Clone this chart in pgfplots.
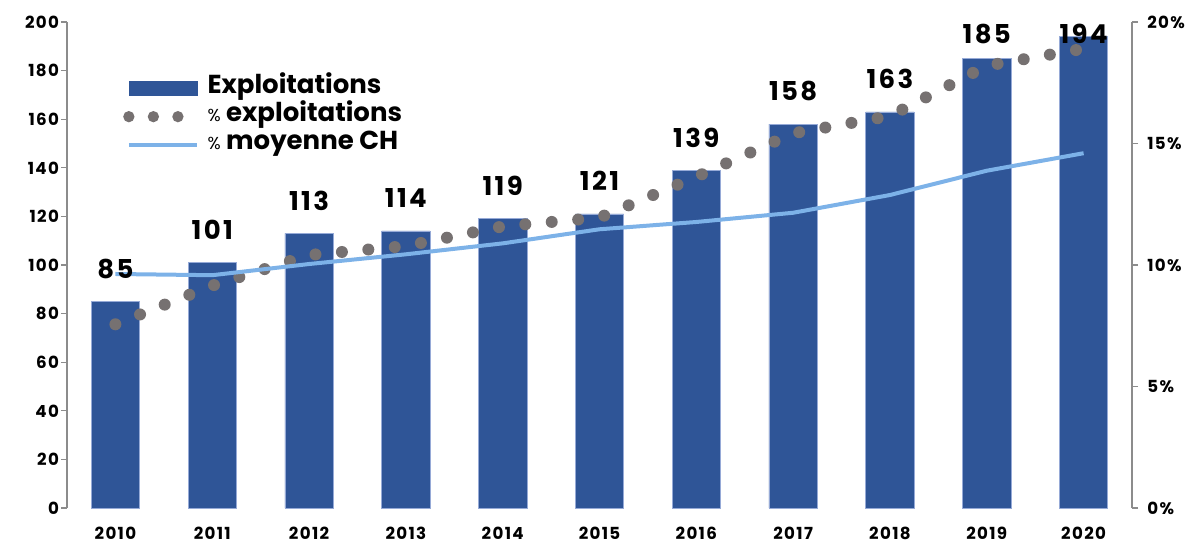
\documentclass[border=0pt]{standalone}
\usepackage{pgfplots}
\pgfplotsset{compat=1.18}
\usepackage{fontspec}
\setmainfont{Poppins}
\definecolor{barblue}{RGB}{47,85,151}
\definecolor{baredge}{RGB}{150,170,215}
\definecolor{dotgray}{RGB}{118,113,113}
\definecolor{lineblue}{RGB}{125,178,232}
\definecolor{axisgray}{RGB}{140,140,140}
\begin{document}
\begin{tikzpicture}
\pgfplotsset{
  base/.style={scale only axis, width=798.75pt, height=364.5pt,
    xmin=-0.5, xmax=10.5,
    /pgf/number format/assume math mode=true,
    tick align=outside, major tick length=4.5pt,
    every tick/.style={axisgray, line width=0.8pt},
    axis line style={axisgray, line width=0.8pt},
    tick label style={font=\bfseries\fontsize{12.5}{14}\selectfont\addfontfeatures{LetterSpace=8}, text=black},
  }
}
\begin{axis}[base, name=main,
  ymin=0, ymax=200, ytick={0,20,...,200},
  axis y line*=left, axis x line*=bottom,
  x axis line style={draw=none}, xtick style={draw=none},
  xtick={0,1,2,3,4,5,6,7,8,9,10},
  xticklabels={2010,2011,2012,2013,2014,2015,2016,2017,2018,2019,2020},
  xticklabel style={yshift=-6.5pt},
  yticklabel style={xshift=2pt},
]
\addplot[ybar, bar width=0.5, fill=barblue, draw=baredge, line width=0.5pt]
  coordinates {(0,85) (1,101) (2,113) (3,114) (4,119) (5,121) (6,139) (7,158) (8,163) (9,185) (10,194)};
\end{axis}
\begin{axis}[base,
  ymin=0, ymax=20, ytick={0,5,10,15,20},
  yticklabel={\pgfmathprintnumber{\tick}\%},
  yticklabel style={xshift=3.5pt},
  axis y line*=right, axis x line=none, clip=false,
  legend style={at={(rel axis cs:0.0525,0.893)}, anchor=north west, draw=none, fill=none,
    inner sep=0pt, row sep=0pt,
    nodes={inner sep=0pt, text height=14.3pt, text depth=6.9pt},
    font=\bfseries\fontsize{19.5}{19.5}\selectfont},
  legend cell align=left,
  /tikz/every even column/.append style={column sep=7pt},
  /tikz/every odd column/.append style={column sep=0pt},
]
\addlegendimage{legend image code/.code={\fill[barblue] (0pt,-5.25pt) rectangle (51pt,5.25pt); \path (54.5pt,0pt);}}
\addlegendentry{Exploitations}
\addplot[dotgray, line width=9pt, line cap=round, dash pattern=on 0pt off 19.9pt,
  legend image code/.code={\draw[dotgray, line width=8.5pt, line cap=round, dash pattern=on 0pt off 18.4pt] (0pt,0pt) -- (37pt,0pt); \path (54.5pt,0pt);}]
  coordinates {(0,7.56) (1,9.15) (2,10.41) (3,10.78) (4,11.59) (5,11.95) (6,13.63) (7,15.42) (8,16.13) (9,18.2) (10,18.9)};
\addlegendentry{{\fontsize{13}{13}\selectfont\mdseries\%} exploitations}
\addplot[lineblue, line width=3pt,
  legend image code/.code={\draw[lineblue, line width=3pt] (0pt,0pt) -- (51pt,0pt); \path (54.5pt,0pt);}]
  coordinates {(0,9.63) (1,9.58) (2,10.04) (3,10.44) (4,10.89) (5,11.47) (6,11.77) (7,12.15) (8,12.88) (9,13.88) (10,14.6)};
\addlegendentry{{\fontsize{13}{13}\selectfont\mdseries\%} moyenne CH}
\addplot[draw=none, mark=none, nodes near coords, point meta=explicit symbolic,
  nodes near coords style={anchor=base, text=black, font=\bfseries\fontsize{19.5}{19.5}\selectfont\addfontfeatures{LetterSpace=9}}]
  table[meta=lab] {
x y lab
0 9.45 85
1 11.05 101
2 12.25 113
3 12.35 114
4 12.85 119
5 13.05 121
6 14.85 139
7 16.75 158
8 17.25 163
9 19.13 185
10 19.13 194
};
\end{axis}
\path (main.south west) ++(-50.25pt,-28.5pt) coordinate (bl);
\path (main.north east) ++(50.25pt,16.5pt) coordinate (tr);
\path (bl) rectangle (tr);
\end{tikzpicture}
\end{document}
